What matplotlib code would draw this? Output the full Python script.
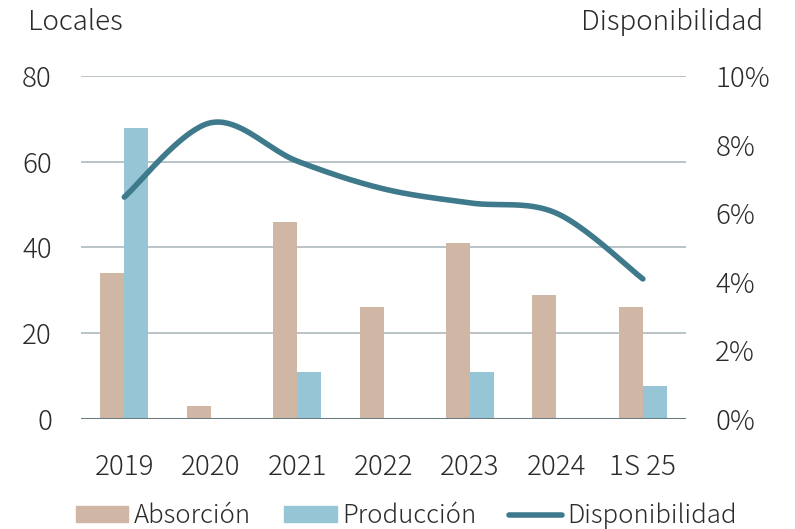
import numpy as np
import matplotlib
matplotlib.use("Agg")
import matplotlib.pyplot as plt
from matplotlib.lines import Line2D
from matplotlib.patches import Patch

plt.rcParams['font.family'] = ['Noto Sans CJK JP', 'DejaVu Sans']
plt.rcParams['font.weight'] = 300

categories = ["2019", "2020", "2021", "2022", "2023", "2024", "1S 25"]
absorcion = [34, 3, 46, 26, 41, 29, 26]
produccion = [68, 0, 11, 0, 11, 0, 7.6]
disponibilidad = [6.47, 8.64, 7.52, 6.71, 6.30, 6.0, 4.08]

c_abs = "#D0B7A5"
c_prod = "#96C6D6"
c_line = "#3F7A8C"
c_text = "#2B2B2B"
c_grid = "#B4BFC1"
fs = 20
fs_leg = 18.5

fig = plt.figure(figsize=(7.95, 5.29), dpi=100)
ax = fig.add_axes([0.102, 0.2085, 0.761, 0.6475])
x = np.arange(len(categories))
w = 0.278
ax.bar(x - w/2, absorcion, w, color=c_abs, zorder=2)
ax.bar(x + w/2, produccion, w, color=c_prod, zorder=2)
ax.set_xlim(-0.5, len(categories) - 0.5)
ax.set_ylim(0, 80)
ax.set_yticks([0, 20, 40, 60, 80])
ax.yaxis.grid(True, color=c_grid, linewidth=1.3, zorder=0)
ax.set_axisbelow(True)
for s in ax.spines.values():
    s.set_visible(False)
ax.axhline(0, color="#6A7B80", linewidth=2.2, zorder=3)
ax.tick_params(axis='both', length=0, labelsize=fs, labelcolor=c_text)
ax.tick_params(axis='y', pad=21)
ax.tick_params(axis='x', pad=25)
ax.set_xticks(x)
ax.set_xticklabels(categories)

ax2 = ax.twinx()
ax2.set_ylim(0, 10)
ax2.set_yticks([0, 2, 4, 6, 8, 10])
ax2.set_yticklabels([f"{v}%" for v in [0, 2, 4, 6, 8, 10]])
for s in ax2.spines.values():
    s.set_visible(False)
ax2.tick_params(axis='y', length=0, labelsize=fs, labelcolor=c_text, pad=21)
for lab in ax.get_xticklabels() + ax.get_yticklabels() + ax2.get_yticklabels():
    lab.set_fontweight(300)

# smoothed line (Catmull-Rom / Bezier like spreadsheet smoothing)
px = x.astype(float)
py = np.array(disponibilidad, dtype=float)
xs, ys = [], []
n = len(px)
for i in range(n - 1):
    p0 = (px[max(i-1, 0)], py[max(i-1, 0)])
    p1 = (px[i], py[i])
    p2 = (px[i+1], py[i+1])
    p3 = (px[min(i+2, n-1)], py[min(i+2, n-1)])
    c1 = (p1[0] + (p2[0]-p0[0])/6, p1[1] + (p2[1]-p0[1])/6)
    c2 = (p2[0] - (p3[0]-p1[0])/6, p2[1] - (p3[1]-p1[1])/6)
    t = np.linspace(0, 1, 40)
    bx = (1-t)**3*p1[0] + 3*(1-t)**2*t*c1[0] + 3*(1-t)*t**2*c2[0] + t**3*p2[0]
    by = (1-t)**3*p1[1] + 3*(1-t)**2*t*c1[1] + 3*(1-t)*t**2*c2[1] + t**3*p2[1]
    xs.extend(bx); ys.extend(by)
ax2.plot(xs, ys, color=c_line, linewidth=4, solid_capstyle='round', zorder=4)

fig.text(28/795, 1 - 22/529, "Locales", fontsize=fs, color=c_text, va='center', ha='left', fontweight=300)
fig.text(763/795, 1 - 22/529, "Disponibilidad", fontsize=fs, color=c_text, va='center', ha='right', fontweight=300)

handles = [Patch(color=c_abs), Patch(color=c_prod),
           Line2D([0], [0], color=c_line, linewidth=4, solid_capstyle='round')]
labels = ["Absorción", "Producción", "Disponibilidad"]
leg = fig.legend(handles, labels, loc='center', bbox_to_anchor=(0.511, 1 - 516/529), ncol=3,
                 frameon=False, fontsize=fs_leg, handlelength=2.05, handleheight=0.55,
                 handletextpad=0.2, columnspacing=1.3, labelcolor=c_text,
                 prop={'size': fs_leg, 'weight': 300})

fig.savefig("out.png", dpi=100)
